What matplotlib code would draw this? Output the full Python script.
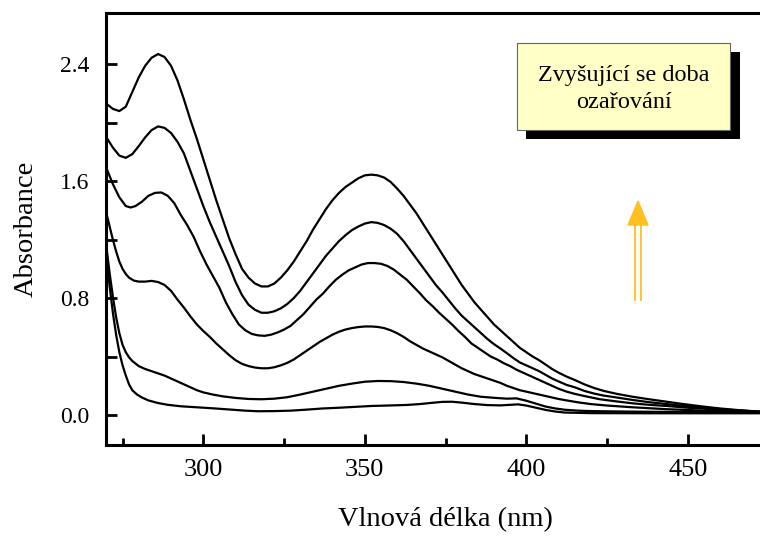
import matplotlib
matplotlib.use('Agg')
import matplotlib.pyplot as plt
from matplotlib.patches import Rectangle, Polygon
from matplotlib.lines import Line2D
from matplotlib.ticker import MultipleLocator

plt.rcParams['font.family'] = ['Liberation Serif', 'DejaVu Serif']

# ---- data ----
wl1 = [270, 272, 274, 276, 278, 280, 282, 284, 286, 288, 290, 292, 294, 296, 298, 300, 302, 304, 306,
       308, 310, 312, 314, 316, 318, 320, 322, 324, 326, 328, 330, 332, 334, 336, 338, 340, 342, 344,
       346, 348, 350, 352, 354, 356, 358, 360, 362, 364, 366, 368, 370, 372, 374, 376, 378, 380, 382,
       384, 386, 388, 390, 392, 394, 396, 398, 400, 402, 404, 406, 408, 410, 412.5, 415, 418, 421, 424,
       428, 433, 438, 443.5, 448, 454, 460, 466, 472.4, 480]
a1 = [2.13, 2.095, 2.08, 2.11, 2.21, 2.31, 2.39, 2.445, 2.47, 2.45, 2.39, 2.29, 2.16, 2.02, 1.89, 1.75,
      1.61, 1.47, 1.34, 1.21, 1.10, 1.00, 0.94, 0.90, 0.88, 0.88, 0.90, 0.94, 0.99, 1.05, 1.12, 1.19,
      1.27, 1.34, 1.41, 1.47, 1.52, 1.56, 1.59, 1.62, 1.64, 1.645, 1.64, 1.625, 1.595, 1.55, 1.50, 1.44,
      1.38, 1.31, 1.24, 1.17, 1.10, 1.03, 0.96, 0.89, 0.83, 0.77, 0.72, 0.67, 0.62, 0.58, 0.54, 0.50,
      0.46, 0.43, 0.40, 0.375, 0.345, 0.315, 0.29, 0.263, 0.24, 0.21, 0.185, 0.165, 0.145, 0.125, 0.108,
      0.091, 0.077, 0.06, 0.045, 0.033, 0.023, 0.015]

wl2 = [270, 272, 274, 276, 278, 280, 282, 284, 286, 288, 290, 292, 294, 296, 298, 300, 302, 304, 306,
       308, 310, 312, 314, 316, 318, 320, 322, 324, 326, 328, 330, 332, 334, 336, 338, 340, 342, 344,
       346, 348, 350, 352, 354, 356, 358, 360, 362, 364, 366, 368, 370, 372, 374, 376, 378, 380, 382,
       384, 386, 388, 390, 392, 394, 396, 398, 400, 402, 404, 406, 408, 410, 412.5, 415, 418, 421, 424,
       428, 433, 438, 443.5, 450, 456, 462, 467, 472.4, 480]
a2 = [1.90, 1.83, 1.775, 1.76, 1.785, 1.84, 1.90, 1.95, 1.975, 1.965, 1.93, 1.87, 1.79, 1.67, 1.55,
      1.43, 1.32, 1.22, 1.12, 1.02, 0.91, 0.82, 0.755, 0.72, 0.70, 0.70, 0.71, 0.73, 0.76, 0.80, 0.85,
      0.91, 0.97, 1.03, 1.09, 1.14, 1.19, 1.23, 1.265, 1.29, 1.31, 1.32, 1.315, 1.30, 1.275, 1.24, 1.19,
      1.13, 1.07, 1.01, 0.95, 0.89, 0.84, 0.785, 0.73, 0.68, 0.64, 0.60, 0.56, 0.52, 0.485, 0.455, 0.423,
      0.39, 0.36, 0.34, 0.32, 0.30, 0.275, 0.25, 0.23, 0.206, 0.19, 0.165, 0.147, 0.133, 0.12, 0.103,
      0.088, 0.075, 0.06, 0.048, 0.037, 0.03, 0.023, 0.015]

wl3 = [270, 272, 274, 276, 277.5, 279, 281, 283, 285, 287, 289, 291, 293, 295, 297, 299, 301, 303, 305,
       307, 309, 311, 313, 315, 317, 319, 321, 323, 325, 327, 329, 331, 333, 335, 337, 339, 341, 343,
       345, 347, 349, 351, 353, 355, 357, 359, 361, 363, 365, 367, 369, 371, 373, 375, 377, 379, 381,
       383, 385, 387, 389, 391, 393, 395, 397, 399, 401, 403, 405, 408, 410, 412.5, 415, 418, 422.8,
       428, 433, 438, 443.5, 450, 456, 464, 472.4, 480]
a3 = [1.69, 1.58, 1.49, 1.43, 1.42, 1.43, 1.46, 1.50, 1.52, 1.523, 1.50, 1.45, 1.37, 1.30, 1.22, 1.12,
      1.03, 0.95, 0.87, 0.77, 0.69, 0.62, 0.58, 0.555, 0.545, 0.542, 0.55, 0.565, 0.585, 0.61, 0.65,
      0.69, 0.74, 0.79, 0.83, 0.88, 0.925, 0.96, 0.99, 1.01, 1.03, 1.04, 1.04, 1.035, 1.02, 0.995, 0.96,
      0.926, 0.88, 0.835, 0.785, 0.745, 0.70, 0.66, 0.62, 0.575, 0.535, 0.49, 0.46, 0.43, 0.40, 0.38,
      0.355, 0.335, 0.31, 0.29, 0.27, 0.25, 0.23, 0.20, 0.18, 0.16, 0.145, 0.13, 0.108, 0.093, 0.08,
      0.07, 0.062, 0.05, 0.042, 0.032, 0.023, 0.015]

wl4 = [270, 271, 272, 273, 274, 275, 276, 277, 278.5, 280, 282, 284, 286, 288, 290, 292, 294, 296, 298,
       300, 302, 304, 306, 308, 310, 312, 314, 316, 318, 320, 322, 324, 326, 328, 330, 332, 334, 336,
       338, 340, 342, 344, 346, 348, 350, 352, 354, 356, 358, 360, 362, 364, 366, 368, 370, 372, 374,
       376, 378, 380, 382, 384, 386, 388, 390, 392, 394, 396, 398, 400, 402, 404, 406, 408, 410, 412.5,
       416, 420, 425, 433, 443.5, 455, 472.4, 480]
a4 = [1.38, 1.29, 1.20, 1.12, 1.05, 1.00, 0.965, 0.94, 0.92, 0.913, 0.913, 0.918, 0.91, 0.89, 0.85,
      0.79, 0.735, 0.675, 0.62, 0.575, 0.535, 0.49, 0.45, 0.41, 0.375, 0.35, 0.335, 0.325, 0.32, 0.32,
      0.327, 0.34, 0.357, 0.38, 0.41, 0.44, 0.47, 0.50, 0.525, 0.55, 0.57, 0.585, 0.595, 0.602, 0.606,
      0.606, 0.603, 0.595, 0.58, 0.56, 0.535, 0.505, 0.48, 0.455, 0.435, 0.415, 0.395, 0.37, 0.345,
      0.32, 0.30, 0.28, 0.265, 0.25, 0.235, 0.22, 0.20, 0.185, 0.17, 0.16, 0.15, 0.14, 0.13, 0.12,
      0.11, 0.10, 0.087, 0.075, 0.065, 0.053, 0.04, 0.03, 0.02, 0.015]

wl5 = [270, 271, 272, 273, 274, 275, 276, 277, 278, 280, 282, 284, 286, 288, 290, 292, 294, 296, 298,
       300, 303, 306, 310, 314, 318, 322, 326, 330, 334, 338, 342, 346, 350, 354, 358, 362, 366, 370,
       374, 378, 382, 386, 390, 394, 397, 400, 403, 406, 409, 412, 416, 420, 430, 440, 455, 472, 480]
a5 = [1.15, 0.97, 0.81, 0.67, 0.56, 0.48, 0.43, 0.395, 0.37, 0.335, 0.315, 0.30, 0.285, 0.27, 0.25,
      0.23, 0.21, 0.19, 0.17, 0.155, 0.14, 0.128, 0.117, 0.11, 0.108, 0.112, 0.122, 0.14, 0.16, 0.18,
      0.20, 0.215, 0.228, 0.233, 0.232, 0.226, 0.215, 0.20, 0.18, 0.16, 0.14, 0.125, 0.118, 0.112,
      0.114, 0.098, 0.078, 0.058, 0.045, 0.036, 0.03, 0.027, 0.024, 0.022, 0.02, 0.018, 0.015]

wl6 = [270, 271, 272, 273, 274, 275, 276, 277, 278, 279.5, 281, 283, 286, 289, 293, 298, 303, 308, 313,
       317, 322, 327, 332, 337, 342, 347, 352, 357, 363, 367, 371, 374, 377, 380, 384, 388, 392, 395,
       397.5, 400, 403, 406, 409, 412, 420, 440, 472, 480]
a6 = [1.08, 0.88, 0.70, 0.55, 0.43, 0.34, 0.27, 0.21, 0.17, 0.14, 0.12, 0.10, 0.082, 0.07, 0.06, 0.053,
      0.046, 0.038, 0.03, 0.026, 0.027, 0.03, 0.037, 0.045, 0.05, 0.056, 0.062, 0.065, 0.069, 0.075,
      0.084, 0.09, 0.091, 0.085, 0.075, 0.068, 0.066, 0.07, 0.073, 0.065, 0.05, 0.035, 0.024, 0.017,
      0.013, 0.012, 0.012, 0.012]

series = [(wl1, a1), (wl2, a2), (wl3, a3), (wl4, a4), (wl5, a5), (wl6, a6)]

y_ticks = [0.0, 0.8, 1.6, 2.4]
x_ticks = [300, 350, 400, 450]

# ---- figure ----
W, H = 760, 536
fig = plt.figure(figsize=(W / 100, H / 100), dpi=100)
ax = fig.add_axes([106 / W, 1 - 445 / H, (784 - 106) / W, (445 - 13) / H])

for wl, a in series:
    ax.plot(wl, a, color='black', lw=1.6, solid_joinstyle='round')

ax.set_xlim(269.87, 479.8)
ax.set_ylim(-0.205, 2.751)
ax.set_xticks(x_ticks)
ax.set_yticks(y_ticks)
ax.set_yticklabels([f'{v:.1f}' for v in y_ticks])
ax.xaxis.set_minor_locator(MultipleLocator(25))
ax.yaxis.set_minor_locator(MultipleLocator(0.4))

for side in ['left', 'bottom', 'top']:
    ax.spines[side].set_linewidth(2.2)
ax.spines['right'].set_visible(False)

ax.tick_params(axis='x', which='major', direction='in', length=8, width=2, labelsize=19, pad=10)
ax.tick_params(axis='x', which='minor', direction='in', length=5, width=2)
ax.tick_params(axis='y', which='both', direction='in', length=8, width=2, labelsize=17, pad=12)

ax.set_xlabel('Vlnová délka (nm)', fontsize=20.5)
ax.set_ylabel('Absorbance', fontsize=20.5)
ax.xaxis.set_label_coords(0.5, -0.1736)
ax.xaxis.label.set_va('center')
ax.yaxis.set_label_coords(-0.1180, 0.5)
ax.yaxis.label.set_va('center')

# ---- annotation box with shadow ----
fig.patches.append(Rectangle((526 / W, 1 - 139 / H), (740 - 526) / W, (139 - 52) / H,
                             transform=fig.transFigure, facecolor='black', edgecolor='none', zorder=5))
fig.patches.append(Rectangle((517 / W, 1 - 130 / H), (730 - 517) / W, (130 - 43) / H,
                             transform=fig.transFigure, facecolor='#FFFFC6', edgecolor='#666666',
                             lw=0.8, zorder=6))
fig.text(624 / W, 1 - 89 / H, 'Zvyšující se doba\nozařování', ha='center', va='center',
         multialignment='center', fontsize=17.5, linespacing=1.35, zorder=7)

# ---- double-line arrow ----
arrow_color = '#FFC020'
for xs in (635, 641):
    fig.lines.append(Line2D([xs / W, xs / W], [1 - 300 / H, 1 - 222 / H], transform=fig.transFigure,
                            color=arrow_color, lw=1.3, zorder=5))
fig.patches.append(Polygon([(628 / W, 1 - 225 / H), (648 / W, 1 - 225 / H), (638 / W, 1 - 201 / H)],
                           closed=True, transform=fig.transFigure, facecolor=arrow_color,
                           edgecolor=arrow_color, zorder=5))

fig.savefig('out.png', dpi=100)
